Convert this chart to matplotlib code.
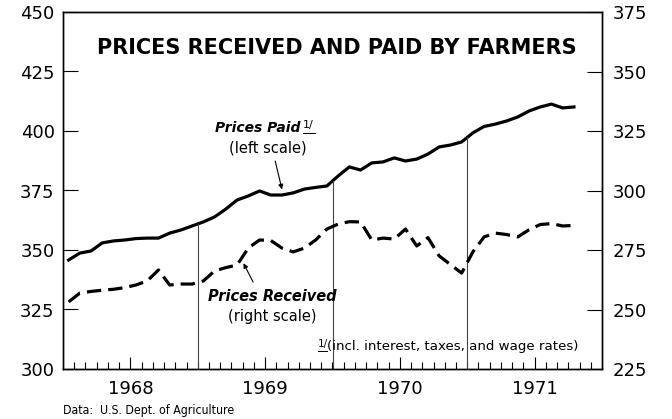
import numpy as np
import matplotlib
matplotlib.use("Agg")
import matplotlib.pyplot as plt

# monthly index values, Jan 1968 - Oct 1971 (1910-14 = 100)
months = np.arange(46)
prices_paid = [345.8, 348.7, 349.6, 353.0, 353.8, 354.2, 354.8, 355.0, 355.0, 357.1, 358.4, 360.1,
               361.8, 363.9, 367.2, 371.0, 372.7, 374.8, 373.1, 373.1, 374.0, 375.6, 376.3, 376.9,
               381.1, 384.9, 383.6, 386.6, 387.0, 388.7, 387.4, 388.2, 390.3, 393.3, 394.1, 395.4,
               399.2, 401.9, 402.9, 404.2, 405.9, 408.4, 410.1, 411.3, 409.7, 410.1]
prices_received = [253.2, 256.9, 257.6, 258.1, 258.5, 259.2, 260.3, 262.0, 266.6, 260.3, 260.7, 260.7,
                   262.0, 266.2, 267.6, 268.7, 275.8, 279.2, 279.0, 275.8, 274.2, 275.8, 279.2, 283.8,
                   285.9, 286.9, 286.8, 279.2, 280.0, 279.6, 283.8, 276.7, 280.2, 272.5, 268.9, 265.3,
                   274.2, 280.5, 282.1, 281.5, 280.5, 283.5, 285.7, 286.1, 285.1, 285.3]
year_labels = ["1968", "1969", "1970", "1971"]
left_ticks = [300, 325, 350, 375, 400, 425, 450]
right_ticks = [225, 250, 275, 300, 325, 350, 375]

plt.rcParams["font.family"] = ["DejaVu Sans"]

t = 1968 + (months + 0.5) / 12.0

fig = plt.figure(figsize=(6.72, 4.19), dpi=100)
ax = fig.add_axes([63 / 672, 1 - 369 / 419, 539 / 672, 357 / 419])
ax2 = ax.twinx()

ax.plot(t, prices_paid, color="black", lw=2.3, solid_joinstyle="round")
ax2.plot(t, prices_received, color="black", lw=2.3, dashes=(4.5, 2.2))

# drop lines at the start of each year
for yr in [1969, 1970, 1971]:
    ax.plot([yr, yr], [300, np.interp(yr, t, prices_paid)], color="#444444", lw=0.8)

ax.set_xlim(1968, 1972)
ax.set_ylim(300, 450)
ax2.set_ylim(225, 375)

for a in (ax, ax2):
    for s in a.spines.values():
        s.set_linewidth(1.0)

ax.set_yticks(left_ticks)
ax.set_yticklabels([str(v) for v in left_ticks], fontsize=13)
ax2.set_yticks(right_ticks)
ax2.set_yticklabels([str(v) for v in right_ticks], fontsize=13)
ax.tick_params(axis="y", direction="in", length=11, width=0.8, pad=6)
ax2.tick_params(axis="y", direction="in", length=11, width=0.8, pad=8)

# monthly ticks, taller at mid-year where the year label sits
ax.set_xticks(np.arange(1968, 1972, 1 / 12.0)[1:], minor=True)
ax.set_xticks([1968.5, 1969.5, 1970.5, 1971.5])
ax.set_xticklabels(year_labels, fontsize=13)
ax.tick_params(axis="x", which="major", direction="in", length=9, width=0.8, pad=8)
ax.tick_params(axis="x", which="minor", direction="in", length=5, width=0.8)

ax.text(1970.03, 435, "PRICES RECEIVED AND PAID BY FARMERS", ha="center", va="center",
        fontsize=15, fontweight="bold")

ax.text(1969.76, 401.3, "Prices Paid", ha="right", va="center", fontsize=10,
        fontweight="bold", style="italic")
ax.text(1969.78, 402.5, "1/", ha="left", va="center", fontsize=8)
ax.plot([1969.78, 1969.87], [399.0, 399.0], color="black", lw=0.7)
ax.text(1969.52, 393.0, "(left scale)", ha="center", va="center", fontsize=10.5)
ax.annotate("", xy=(1969.63, 374.3), xytext=(1969.57, 388.5),
            arrowprops=dict(arrowstyle="-|>", color="black", lw=0.8, mutation_scale=7))

ax.text(1969.55, 330.5, "Prices Received", ha="center", va="center", fontsize=10.5,
        fontweight="bold", style="italic")
ax.text(1969.55, 322.0, "(right scale)", ha="center", va="center", fontsize=10.5)
ax.annotate("", xy=(1969.33, 345.5), xytext=(1969.42, 335.5),
            arrowprops=dict(arrowstyle="-|>", color="black", lw=0.8, mutation_scale=7))

ax.text(1969.89, 310.3, "1/", ha="left", va="center", fontsize=7.5)
ax.plot([1969.89, 1969.96], [307.6, 307.6], color="black", lw=0.7)
ax.text(1969.96, 309.5, "(incl. interest, taxes, and wage rates)", ha="left", va="center",
        fontsize=9.6)

fig.text(63 / 672, 1 - 410 / 419, "Data:  U.S. Dept. of Agriculture", ha="left", va="center",
         fontsize=8.8, fontstretch="condensed")

fig.savefig("out.png", dpi=100)
